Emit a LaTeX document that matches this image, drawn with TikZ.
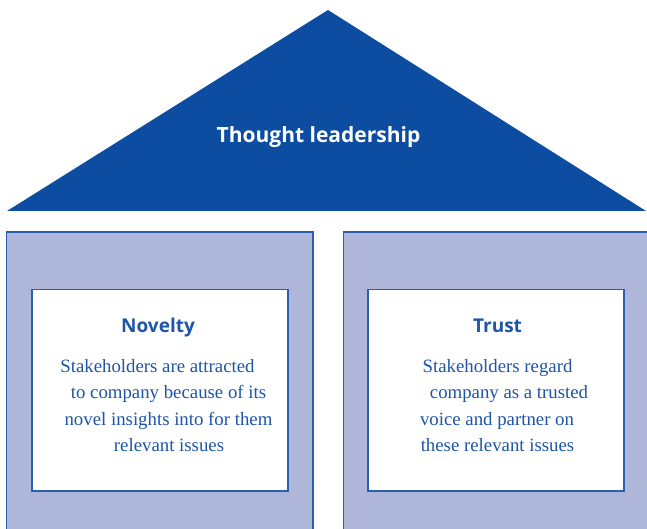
\documentclass[tikz,border=0pt]{standalone}
\usepackage{fontspec}
\setmainfont{Liberation Serif}
\newfontfamily\headfont{Open Sans}
\definecolor{roofblue}{HTML}{0C4DA2}
\definecolor{pillarfill}{HTML}{AEB6DA}
\definecolor{edgeblue}{HTML}{2C5DB2}
\definecolor{textblue}{HTML}{1E55A7}
\tikzset{
  pillar/.style={fill=pillarfill, draw=edgeblue, line width=1.4pt},
  panel/.style={fill=white, draw=edgeblue, line width=1.2pt},
  headtxt/.style={font=\headfont\bfseries\fontsize{19}{22}\selectfont, text=textblue, anchor=base, inner sep=0pt},
  bodytxt/.style={font=\fontsize{18.8}{22}\selectfont, text=textblue, anchor=base, inner sep=0pt},
  rooftxt/.style={font=\headfont\bfseries\fontsize{21}{24}\selectfont, text=white, anchor=base, inner sep=0pt}
}
\begin{document}
\begin{tikzpicture}[x=1pt,y=-1pt]
\useasboundingbox (0,0) rectangle (647,529);
\clip (0,0) rectangle (647,529);
% roof
\fill[roofblue] (7,211) coordinate (rl) -- (328,10) coordinate (apex) -- (646,211) coordinate (rr) -- cycle;
\node[rooftxt] (roof) at (318.5,143) {Thought leadership};
% pillars
\draw[pillar] (6.5,540) -- (6.5,232) -- (313,232) -- (313,540);
\draw[pillar] (343.5,540) -- (343.5,232) -- (660,232);
\fill[pillarfill] (344.2,232.7) rectangle (660,540);
% panels
\draw[panel] (32,289.5) rectangle (288,491);
\draw[panel] (368,289.5) rectangle (624,491);
% left texts
\node[headtxt] (nov) at (158,332) {Novelty};
\node[bodytxt] (l1) at (157.5,372) {Stakeholders are attracted};
\node[bodytxt] (l2) at (168.5,398.5) {to company because of its};
\node[bodytxt] (l3) at (168.5,425) {novel insights into for them};
\node[bodytxt] (l4) at (169,451.5) {relevant issues};
% right texts
\node[headtxt] (tru) at (497.5,332) {Trust};
\node[bodytxt] (r1) at (497.5,372) {Stakeholders regard};
\node[bodytxt] (r2) at (509,398.5) {company as a trusted};
\node[bodytxt] (r3) at (497,425) {voice and partner on};
\node[bodytxt] (r4) at (497.5,451.5) {these relevant issues};
\end{tikzpicture}
\end{document}
